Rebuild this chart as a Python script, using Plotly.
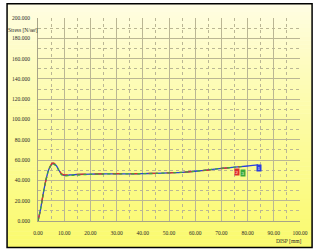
import plotly.graph_objects as go

# ---- data ----
disp_1 = [0, 1, 2, 3, 4, 5, 5.5, 6, 7, 8, 9, 10, 12, 15, 20, 25, 30, 35, 40, 45, 50, 55, 60, 65, 70, 75, 80, 82, 84]
stress_1 = [0, 12, 27, 40, 50, 55, 56.5, 56.5, 54.5, 50, 46, 45, 45.3, 45.8, 46.2, 46.4, 46.5, 46.5, 46.6, 47, 47.5, 48, 49, 50.3, 51.8, 53, 54.2, 54.8, 55.3]
disp_2 = [0, 1, 2, 3, 4, 5, 5.5, 6, 7, 8, 9, 10, 12, 15, 20, 25, 30, 35, 40, 45, 50, 55, 60, 65, 70, 75, 77]
stress_2 = [0, 12, 27, 40, 50, 55.5, 57, 57, 55, 50.5, 46.5, 45.5, 45.5, 45.9, 46.3, 46.5, 46.6, 46.6, 46.7, 47, 47.4, 48, 49, 50.2, 51.7, 53, 53.5]
disp_3 = [0, 1, 2, 3, 4, 5, 5.5, 6, 7, 8, 9, 10, 12, 15, 20, 25, 30, 35, 40, 45, 50, 55, 60, 65, 70, 75, 79]
stress_3 = [0, 12, 27, 40, 50, 55, 56, 56, 54, 49.5, 45.5, 44.5, 44.8, 45.3, 46, 46.3, 46.4, 46.5, 46.6, 46.9, 47.4, 48, 49, 50.4, 51.9, 53, 53.8]

series_names = ["1", "2", "3"]
series_colors = ["#2a3ee0", "#e0302a", "#3aaa3a"]
end_labels_x = [84.3, 75.8, 78.4]
end_labels_y = [52, 48, 47]

x_ticks = [0, 10, 20, 30, 40, 50, 60, 70, 80, 90, 100]
y_ticks = [0, 20, 40, 60, 80, 100, 120, 140, 160, 180, 200]

W, H = 320, 251
L, R, T, B = 34.5, 14.5, 18.3, 30.3
pw, ph = W - L - R, H - T - B


def px(xp):
    return (xp - L) / pw


def py(yp):
    return (H - B - yp) / ph


fig = go.Figure()
for xs, ys, nm, col, dash in zip([disp_1, disp_2, disp_3], [stress_1, stress_2, stress_3],
                                 series_names, series_colors, ["solid", "dash", "dot"]):
    fig.add_trace(go.Scatter(x=xs, y=ys, mode="lines", name=nm,
                             line=dict(color=col, width=1.3, shape="spline", smoothing=0.6, dash=dash),
                             showlegend=False, hoverinfo="skip"))

# gradient background strips inside the frame
shapes = []
top_px, bot_px, left_px, right_px = 4, 247, 2.5, 318
n = 60
c0 = (255, 253, 228)
c1 = (250, 250, 110)
for i in range(n):
    f = (i / (n - 1)) ** 0.85
    r = round(c0[0] + (c1[0] - c0[0]) * f)
    g = round(c0[1] + (c1[1] - c0[1]) * f)
    b = round(c0[2] + (c1[2] - c0[2]) * f)
    y0p = top_px + (bot_px - top_px) * i / n
    y1p = top_px + (bot_px - top_px) * (i + 1) / n + 0.5
    shapes.append(dict(type="rect", xref="paper", yref="paper",
                       x0=px(left_px), x1=px(right_px), y0=py(y1p), y1=py(y0p),
                       fillcolor=f"rgb({r},{g},{b})", line=dict(width=0), layer="below"))
shapes.append(dict(type="rect", xref="paper", yref="paper",
                   x0=px(left_px), x1=px(right_px), y0=py(bot_px), y1=py(top_px),
                   line=dict(color="#000000", width=1.5), fillcolor="rgba(0,0,0,0)", layer="above"))

annotations = [
    dict(text="Stress [N/㎟]", xref="paper", yref="paper", x=px(1.5), y=py(30),
         xanchor="left", yanchor="middle", showarrow=False,
         font=dict(size=5.5, color="#2a2a2a", family="Liberation Sans Narrow")),
    dict(text="DISP [mm]", xref="paper", yref="paper", x=px(309), y=py(241),
         xanchor="right", yanchor="middle", showarrow=False,
         font=dict(size=5.5, color="#2a2a2a", family="Liberation Sans Narrow")),
]
for nm, col, lx, ly in zip(series_names, series_colors, end_labels_x, end_labels_y):
    annotations.append(dict(text=nm, x=lx, y=ly, xref="x", yref="y", showarrow=False,
                            font=dict(size=5, color="#ffffff", family="Liberation Sans Narrow"),
                            bgcolor=col, borderpad=0.5))

axis_font = dict(size=5.5, color="#2a2a2a", family="Liberation Sans Narrow")
grid_col = "#bab694"
fig.update_layout(
    width=W, height=H,
    margin=dict(l=L, r=R, t=T, b=B, pad=0),
    paper_bgcolor="#ffffff",
    plot_bgcolor="rgba(0,0,0,0)",
    shapes=shapes,
    annotations=annotations,
    xaxis=dict(range=[0, 100], tickvals=x_ticks, ticktext=[f"{v:.2f}" for v in x_ticks],
               showgrid=True, gridcolor=grid_col, gridwidth=1.2, zeroline=False,
               showline=True, linecolor="#a8a488", linewidth=1, mirror=False,
               ticks="outside", ticklen=6, tickcolor="rgba(0,0,0,0)", tickfont=axis_font,
               minor=dict(dtick=5, tick0=0, showgrid=True, gridcolor=grid_col, griddash="dot", gridwidth=1),
               fixedrange=True),
    yaxis=dict(range=[0, 200], tickvals=y_ticks, ticktext=[f"{v:.3f}" for v in y_ticks],
               showgrid=True, gridcolor=grid_col, gridwidth=1.2, zeroline=False,
               showline=True, linecolor="#a8a488", linewidth=1,
               ticks="outside", ticklen=6, tickcolor="rgba(0,0,0,0)", tickfont=axis_font,
               minor=dict(dtick=10, tick0=0, showgrid=True, gridcolor=grid_col, griddash="dot", gridwidth=1),
               fixedrange=True),
)

fig.write_html("out.html", config={"displayModeBar": False})
